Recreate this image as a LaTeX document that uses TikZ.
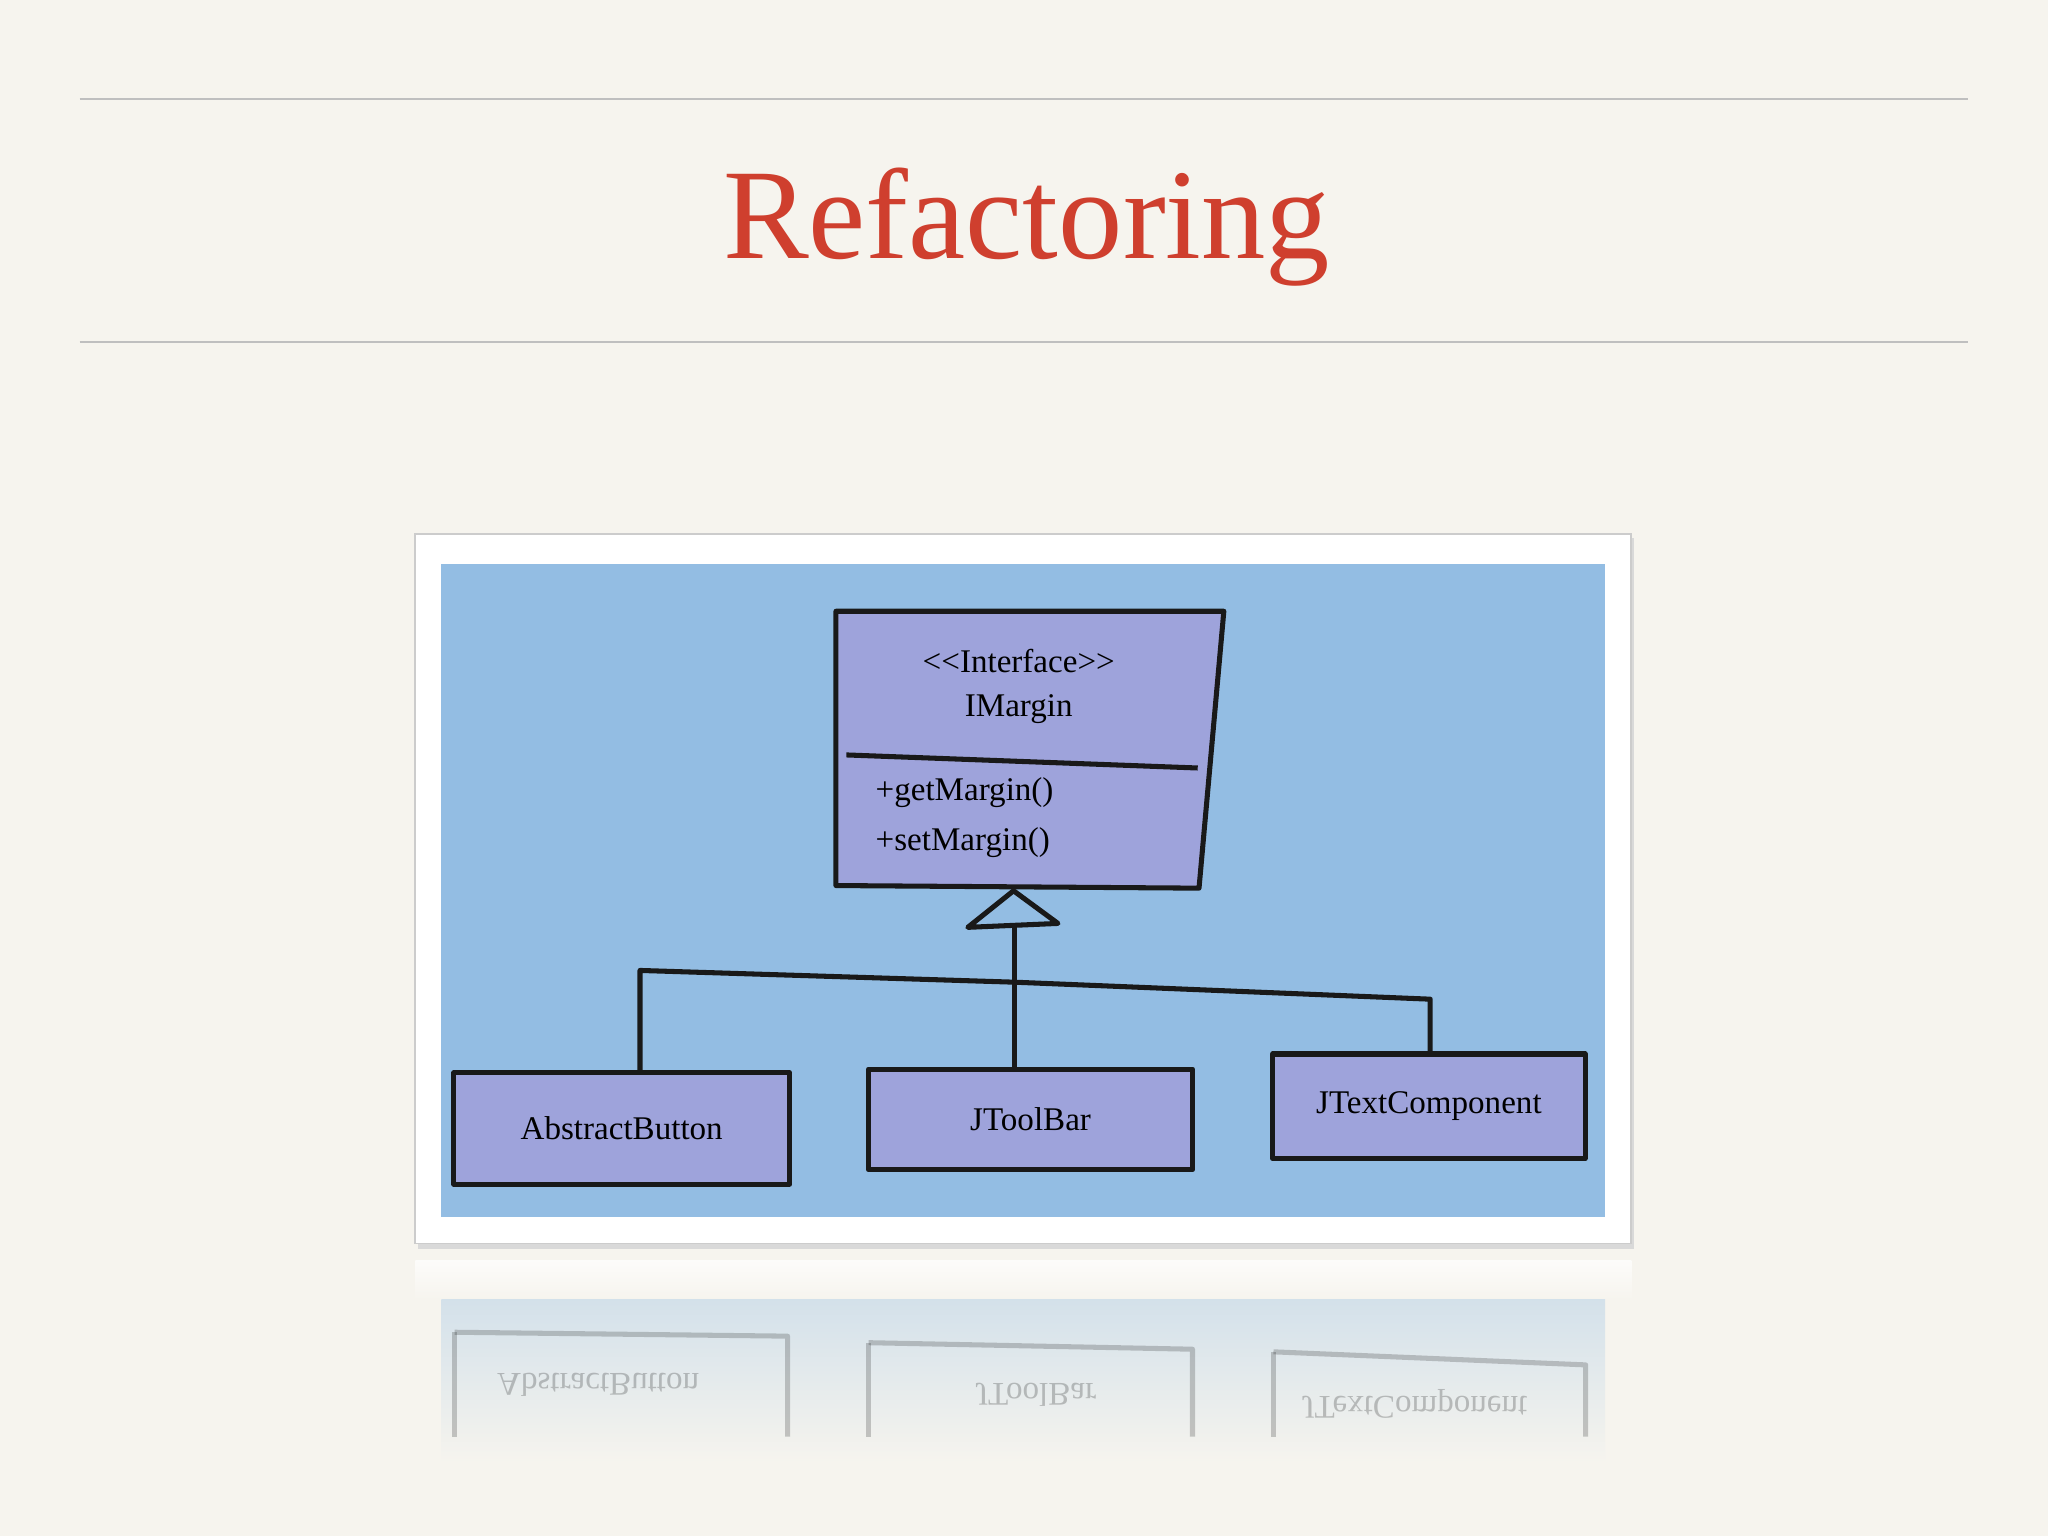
\documentclass[tikz,border=0pt]{standalone}
\usepackage{fontspec}
\setmainfont{Liberation Serif}
\definecolor{bg}{HTML}{F6F4EE}
\definecolor{titlered}{HTML}{CF3F2E}
\definecolor{sky}{HTML}{93BDE3}
\definecolor{boxfill}{HTML}{9EA3DB}
\begin{document}
\begin{tikzpicture}[x=0.01cm,y=-0.01cm,
  ink/.style={draw=black!90,line width=1.1pt,line join=round},
  umlbox/.style={ink,fill=boxfill},
  lbl/.style={font=\fontsize{7.2}{8.5}\selectfont},
  rule/.style={draw=black!25,line width=0.5pt}]
\fill[bg] (0,0) rectangle (1568,1176);
\useasboundingbox (0,0) rectangle (1568,1176);
\draw[rule] (61,76) -- (1507,76);
\draw[rule] (61,262) -- (1507,262);
\node[text=titlered,font=\fontsize{28}{33}\selectfont] (title) at (786,174) {Refactoring};
% frame
\fill[black!15] (320,412) rectangle (1251,956);
\fill[white,draw=black!20] (318,409) rectangle (1249,952);
\fill[sky] (338,432) rectangle (1229,932);
% reflection
\shade[top color=white!70!bg,bottom color=bg] (318,965) rectangle (1249,995);
\shade[top color=sky!35!bg,bottom color=bg] (338,995) rectangle (1229,1120);
\begin{scope}[opacity=0.22]
\draw[ink] (348,1020) -- (603,1023) -- (603,1100);
\draw[ink] (348,1100) -- (348,1020);
\draw[ink] (665,1028) -- (913,1033) -- (913,1100);
\draw[ink] (665,1100) -- (665,1028);
\draw[ink] (975,1035) -- (1214,1045) -- (1214,1100);
\draw[ink] (975,1100) -- (975,1035);
\node[lbl,yscale=-1] at (458,1060) {AbstractButton};
\node[lbl,yscale=-1] at (793,1068) {JToolBar};
\node[lbl,yscale=-1] at (1083,1075) {JTextComponent};
\end{scope}
% interface box
\draw[umlbox] (640,468) -- (937,468) -- (918,680) -- (640,678) -- cycle;
\draw[ink] (648,578) -- (917,588);
\node[lbl] (stereo) at (780,506) {{<}{<}Interface{>}{>}};
\node[lbl] (iname) at (780,543) {IMargin};
\node[lbl,anchor=west] (get) at (658,607) {+getMargin()};
\node[lbl,anchor=west] (set) at (658,645) {+setMargin()};
\coordinate (apex) at (776,682);
\coordinate (tri) at (777,708);
\draw[ink,fill=sky] (apex) -- (810,707) -- (741,710) -- cycle;
% subclasses
\node[umlbox,lbl,minimum width=2.57cm,minimum height=0.85cm] (ab) at (476,864) {AbstractButton};
\node[umlbox,lbl,minimum width=2.48cm,minimum height=0.77cm] (tb) at (789,857) {JToolBar};
\node[umlbox,lbl,minimum width=2.39cm,minimum height=0.8cm] (tc) at (1094,847) {JTextComponent};
\coordinate (lj) at (490,743);
\coordinate (rj) at (1095,765);
\draw[ink] (tri) -- (tb.north -| tri);
\draw[ink] (ab.north -| lj) -- (lj) -- (777,752) -- (rj) -- (tc.north -| rj);
\end{tikzpicture}
\end{document}
